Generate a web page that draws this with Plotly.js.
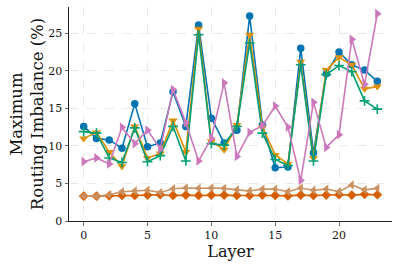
<!DOCTYPE html>
<html>
<head>
<meta charset="utf-8">
<script src="https://cdn.plot.ly/plotly-3.0.1.min.js"></script>
<style>html,body{margin:0;padding:0;background:#fff;}#chart{width:399px;height:267px;}</style>
</head>
<body>
<div id="chart"></div>
<script>
const layers = [0,1,2,3,4,5,6,7,8,9,10,11,12,13,14,15,16,17,18,19,20,21,22,23];
const blueVals   = [12.6,11.0,10.8,9.7,15.6,9.9,10.4,17.2,12.6,26.1,13.7,10.4,12.1,27.3,12.8,7.1,7.2,23.0,9.1,19.6,22.5,20.8,20.1,18.6];
const orangeVals = [11.0,11.8,9.2,7.3,12.6,8.4,9.0,13.4,9.2,25.6,10.6,9.5,12.8,24.8,12.5,8.8,7.6,21.2,8.4,20.1,21.8,20.8,17.6,17.9];
const greenVals  = [11.9,11.7,8.4,7.8,12.4,7.9,8.7,12.6,8.0,24.8,10.3,10.1,12.6,23.7,11.7,8.2,7.4,20.8,8.0,19.5,20.7,19.9,16.0,14.9];
const pinkVals   = [7.9,8.4,7.6,12.5,10.3,12.1,9.6,17.5,13.1,8.0,11.0,18.4,8.6,11.8,12.7,15.3,12.5,5.4,15.8,9.8,11.5,24.2,18.2,27.6];
const darkOrangeVals = [3.3,3.3,3.35,3.4,3.4,3.45,3.5,3.4,3.45,3.4,3.45,3.45,3.4,3.4,3.45,3.4,3.35,3.45,3.4,3.45,3.5,3.45,3.55,3.5];
const brownVals  = [3.3,3.3,3.5,3.9,4.0,4.1,3.8,4.3,4.4,4.35,4.4,4.35,4.15,4.0,4.25,4.25,3.9,4.4,4.1,4.25,3.9,4.8,4.15,4.35];

function tr(y, color, symbol, size, extra) {
  const m = {symbol: symbol, size: size, color: color, line: {width: 0, color: color}};
  if (extra) Object.assign(m, extra);
  return {x: layers, y: y, type: 'scatter', mode: 'lines+markers',
          line: {color: color, width: 1.6}, marker: m, showlegend: false, hoverinfo: 'skip'};
}
const data = [
  tr(blueVals, '#0173B2', 'circle', 7.5),
  tr(orangeVals, '#DE8F05', 'triangle-down', 8),
  tr(greenVals, '#029E73', 'cross-thin', 7, {line: {width: 1.6, color: '#029E73'}}),
  tr(darkOrangeVals, '#D55E00', 'diamond', 7.5),
  tr(pinkVals, '#CC78BC', 'triangle-right', 8.5),
  tr(brownVals, '#CA9161', 'triangle-left', 8)
];
const gridStyle = {showgrid: true, gridcolor: '#e3e3e3', griddash: 'dash', gridwidth: 0.8};
const layout = {
  width: 399, height: 267,
  margin: {l: 69, r: 7, t: 7, b: 46},
  paper_bgcolor: '#fff', plot_bgcolor: '#fff',
  font: {family: 'DejaVu Serif, serif', color: '#111', size: 11},
  xaxis: Object.assign({
    range: [-1.15, 24.15], tickvals: [0,5,10,15,20], ticks: 'outside', ticklen: 3.5, tickwidth: 0.8,
    showline: true, linecolor: '#222', linewidth: 1, zeroline: false,
    tickfont: {size: 11, family: 'DejaVu Serif, serif'},
    title: {text: 'Layer', font: {size: 16, family: 'DejaVu Serif, serif'}, standoff: 4}
  }, gridStyle),
  yaxis: Object.assign({
    range: [0, 28.5], tickvals: [0,5,10,15,20,25], ticks: 'outside', ticklen: 3.5, tickwidth: 0.8,
    showline: true, linecolor: '#222', linewidth: 1, zeroline: false,
    tickfont: {size: 11, family: 'DejaVu Serif, serif'},
    title: {text: 'Maximum<br>Routing Imbalance (%)', font: {size: 16.5, family: 'DejaVu Serif, serif'}, standoff: 0}
  }, gridStyle)
};
Plotly.newPlot('chart', data, layout, {staticPlot: true, displayModeBar: false});
</script>
</body>
</html>
